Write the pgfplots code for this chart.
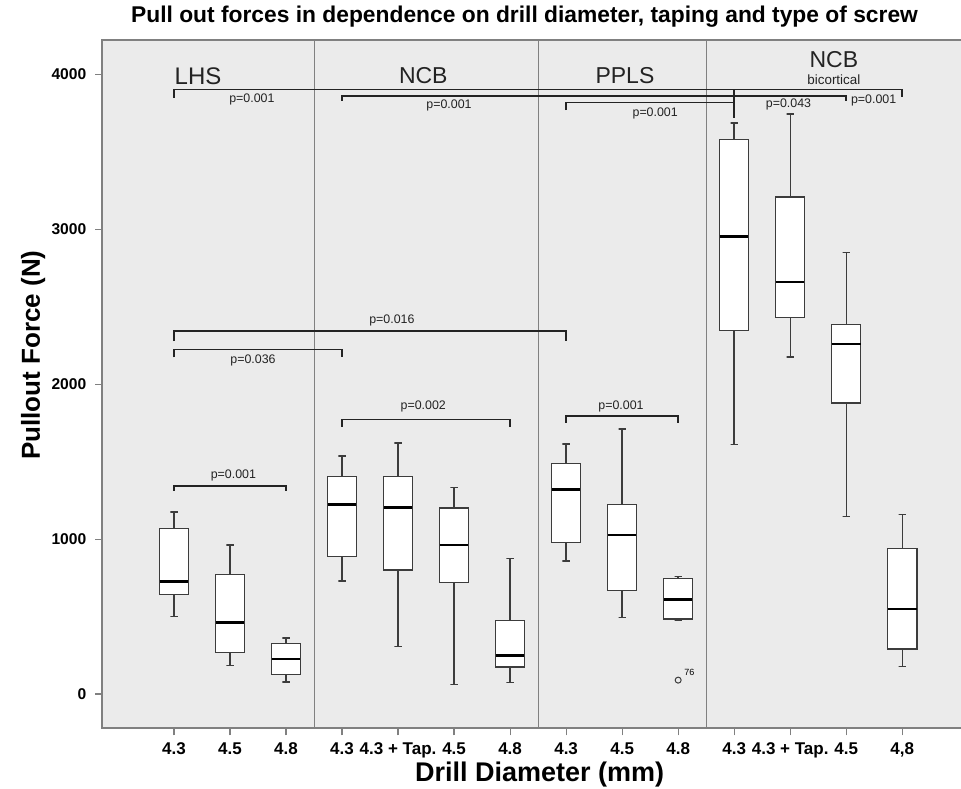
\documentclass[border=0pt]{standalone}
\usepackage{pgfplots}
\pgfplotsset{compat=1.18}
\usepackage{fontspec}
\setmainfont{Liberation Sans}
\definecolor{bg}{RGB}{235,235,235}
\definecolor{framec}{RGB}{128,128,128}
\definecolor{boxc}{RGB}{60,60,60}
\definecolor{brc}{RGB}{35,35,35}
\newcommand{\fs}[1]{\fontsize{#1}{#1}\selectfont}
% box: #1 position, #2 lower whisker, #3 lower quartile, #4 median, #5 upper quartile, #6 upper whisker
\newcommand{\bx}[6]{%
 \addplot[draw=boxc, fill=white, line width=0.7pt, line join=miter] table[row sep=\\, x expr=#1+\thisrow{d}, y=v] {d v\\ -0.26 #3\\ 0.26 #3\\ 0.26 #5\\ -0.26 #5\\ -0.26 #3\\ 0.26 #3\\};
 \addplot[draw=boxc, line width=0.7pt] table[row sep=\\, x expr=#1+\thisrow{d}, y=v] {d v\\ 0 #5\\ 0 #6\\ -0.065 #6\\ 0.065 #6\\};
 \addplot[draw=boxc, line width=0.7pt] table[row sep=\\, x expr=#1+\thisrow{d}, y=v] {d v\\ 0 #3\\ 0 #2\\ -0.065 #2\\ 0.065 #2\\};
 \addplot[draw=black, line width=1.3pt] table[row sep=\\, x expr=#1+\thisrow{d}, y=v] {d v\\ -0.255 #4\\ 0.255 #4\\};
}
\begin{document}
\begin{tikzpicture}
\path[use as bounding box] (-51.15pt,-29.85pt) rectangle (429.35pt,364.15pt);
\begin{axis}[
 scale only axis, width=433.85pt, height=344.15pt,
 xmin=-1.28, xmax=14.21, ymin=-221, ymax=4222,
 axis background/.style={fill=bg},
 axis line style={framec, line width=0.9pt},
 xtick={0,...,13},
 xticklabels={4.3,4.5,4.8,4.3,4.3 + Tap.,4.5,4.8,4.3,4.5,4.8,4.3,4.3 + Tap.,4.5,{4,8}},
 ytick={0,1000,2000,3000,4000},
 yticklabels={0,1000,2000,3000,4000},
 tick align=outside, xtick pos=left, ytick pos=left,
 major tick length=3.5pt,
 tick style={framec, line width=0.6pt},
 x tick label style={font=\bfseries\fs{8.5}},
 y tick label style={font=\bfseries\fs{7.8}, xshift=-1pt},
 xlabel={Drill Diameter (mm)}, ylabel={Pullout Force (N)},
 xlabel style={font=\bfseries\fs{13.5}, at={(0.5040,0)}, anchor=base, yshift=-26.4pt},
 ylabel style={font=\bfseries\fs{13}, at={(0,0.542)}, anchor=base, yshift=31.15pt},
 title={Pull out forces in dependence on drill diameter, taping and type of screw},
 title style={font=\bfseries\fs{11.4}, at={(0.4866,1)}, anchor=base, yshift=3pt},
 clip=false,
]
% group separators
\draw[framec, line width=0.5pt] (axis cs:2.5,-221) -- (axis cs:2.5,4222);
\draw[framec, line width=0.5pt] (axis cs:6.5,-221) -- (axis cs:6.5,4222);
\draw[framec, line width=0.5pt] (axis cs:9.5,-221) -- (axis cs:9.5,4222);
% LHS
\bx{0}{499}{644}{728}{1070}{1174}
\bx{1}{186}{267}{463}{771}{961}
\bx{2}{79}{127}{226}{328}{362}
% NCB
\bx{3}{730}{887}{1223}{1406}{1536}
\bx{4}{308}{801}{1204}{1406}{1620}
\bx{5}{63}{722}{961}{1200}{1335}
\bx{6}{76}{176}{250}{474}{877}
% PPLS
\bx{7}{859}{977}{1322}{1490}{1613}
\bx{8}{495}{667}{1027}{1225}{1710}
\bx{9}{473}{484}{612}{745}{758}
\addplot[only marks, mark=o, mark size=1.5pt, draw=boxc, line width=0.5pt] coordinates {(9,90)};
\node[font=\fs{4.5}] at (axis cs:9.2,140) {76};
% NCB bicortical
\bx{10}{1610}{2347}{2954}{3580}{3685}
\bx{11}{2177}{2432}{2660}{3208}{3744}
\bx{12}{1148}{1879}{2259}{2387}{2852}
\bx{13}{178}{291}{548}{938}{1161}
% brackets top
\draw[brc, line width=0.75pt] (axis cs:0,3848) -- (axis cs:0,3904) -- (axis cs:13,3904) -- (axis cs:13,3856);
\draw[brc, line width=0.75pt] (axis cs:3,3830) -- (axis cs:3,3862) -- (axis cs:12,3862) -- (axis cs:12,3830);
\draw[brc, line width=0.75pt] (axis cs:7,3770) -- (axis cs:7,3817) -- (axis cs:10,3817);
\draw[brc, line width=0.75pt] (axis cs:10,3904) -- (axis cs:10,3718);
% brackets middle
\draw[brc, line width=0.75pt] (axis cs:0,2279) -- (axis cs:0,2343) -- (axis cs:7,2343) -- (axis cs:7,2279);
\draw[brc, line width=0.75pt] (axis cs:0,2174) -- (axis cs:0,2225) -- (axis cs:3,2225) -- (axis cs:3,2174);
\draw[brc, line width=0.75pt] (axis cs:3,1727) -- (axis cs:3,1772) -- (axis cs:6,1772) -- (axis cs:6,1727);
\draw[brc, line width=0.75pt] (axis cs:7,1751) -- (axis cs:7,1795) -- (axis cs:9,1795) -- (axis cs:9,1751);
\draw[brc, line width=0.75pt] (axis cs:0,1311) -- (axis cs:0,1343) -- (axis cs:2,1343) -- (axis cs:2,1311);
% p labels
\begin{scope}[every node/.style={font=\fs{6.2}, text=brc}]
\node at (axis cs:1.39,3835) {p=0.001};
\node at (axis cs:4.91,3802) {p=0.001};
\node at (axis cs:8.59,3751) {p=0.001};
\node at (axis cs:10.97,3809) {p=0.043};
\node at (axis cs:12.49,3830) {p=0.001};
\node at (axis cs:3.89,2414) {p=0.016};
\node at (axis cs:1.41,2156) {p=0.036};
\node at (axis cs:4.45,1855) {p=0.002};
\node at (axis cs:7.98,1859) {p=0.001};
\node at (axis cs:1.06,1414) {p=0.001};
\end{scope}
% group labels
\node[font=\fs{12}, text=brc] at (axis cs:0.43,3990) {LHS};
\node[font=\fs{11.5}, text=brc] at (axis cs:4.45,3990) {NCB};
\node[font=\fs{11.5}, text=brc] at (axis cs:8.05,3990) {PPLS};
\node[font=\fs{11.5}, text=brc] at (axis cs:11.78,4093) {NCB};
\node[font=\fs{6.7}, text=brc] at (axis cs:11.78,3968) {bicortical};
\end{axis}
\end{tikzpicture}
\end{document}
